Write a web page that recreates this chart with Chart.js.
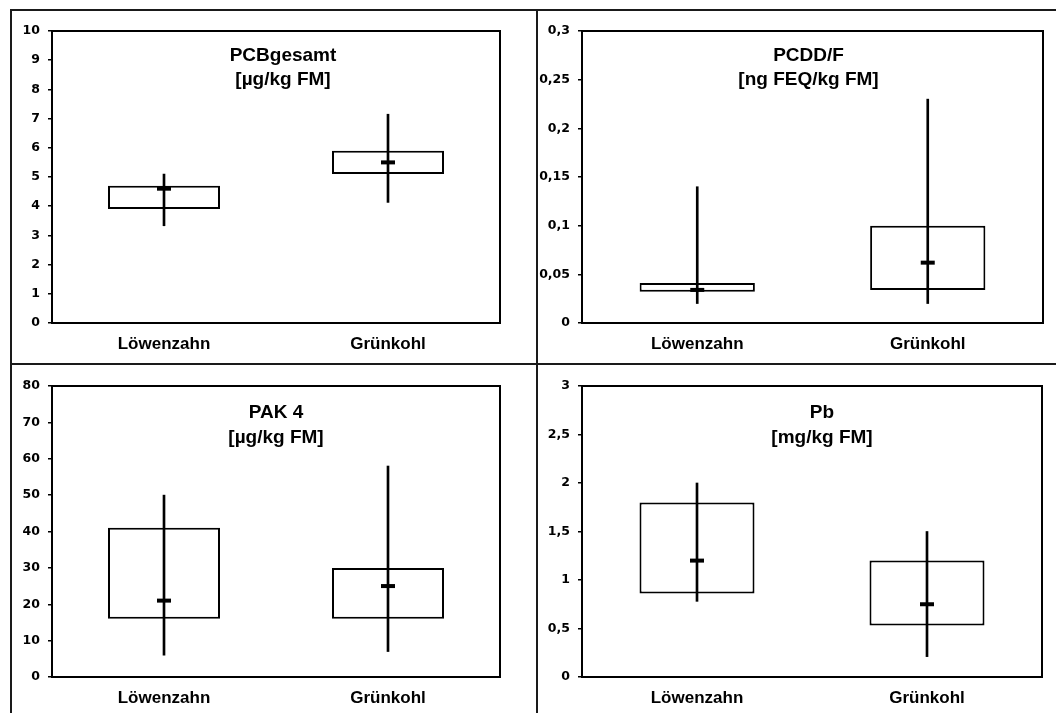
<!DOCTYPE html>
<html>
<head>
<meta charset="utf-8">
<script src="https://cdn.jsdelivr.net/npm/chart.js@4.4.1/dist/chart.umd.min.js"></script>
<style>
  html, body { margin: 0; padding: 0; background: #fff; }
  #page { position: relative; width: 1056px; height: 713px; overflow: hidden; }
  .frame { position: absolute; background: #1a1a1a; }
  canvas { position: absolute; }
</style>
</head>
<body>
<div id="page">
  <div class="frame" style="left:10px;top:9px;width:2px;height:704px"></div>
  <div class="frame" style="left:10px;top:9px;width:1046px;height:2px"></div>
  <div class="frame" style="left:536px;top:9px;width:2px;height:704px"></div>
  <div class="frame" style="left:10px;top:363px;width:1046px;height:2px"></div>
</div>
<script>
// --- data ---
const categories = ['Löwenzahn', 'Grünkohl'];

const pcbTitle = ['PCBgesamt', '[µg/kg FM]'];
const pcbBox = [[3.9, 4.7], [5.1, 5.9]];
const pcbRange = [[3.33, 5.1], [4.13, 7.15]];
const pcbMedian = [4.6, 5.5];

const pcddTitle = ['PCDD/F', '[ng FEQ/kg FM]'];
const pcddBox = [[0.032, 0.041], [0.034, 0.1]];
const pcddRange = [[0.02, 0.14], [0.02, 0.23]];
const pcddMedian = [0.034, 0.062];

const pakTitle = ['PAK 4', '[µg/kg FM]'];
const pakBox = [[16, 41], [16, 30]];
const pakRange = [[6, 50], [7, 58]];
const pakMedian = [21, 25];

const pbTitle = ['Pb', '[mg/kg FM]'];
const pbBox = [[0.86, 1.8], [0.53, 1.2]];
const pbRange = [[0.78, 2.0], [0.21, 1.5]];
const pbMedian = [1.2, 0.75];

const SANS = '"Liberation Sans", Arial, sans-serif';

// plot frame + two-line title inside the plot area
const panelDeco = {
  id: 'panelDeco',
  afterDraw(chart, args, opts) {
    const a = chart.chartArea, ctx = chart.ctx;
    ctx.save();
    ctx.strokeStyle = '#000';
    ctx.lineWidth = 2;
    ctx.strokeRect(a.left, a.top, a.right - a.left, a.bottom - a.top);
    ctx.fillStyle = '#000';
    ctx.font = 'bold 19px ' + SANS;
    ctx.textAlign = 'center';
    ctx.textBaseline = 'alphabetic';
    const cx = (a.left + a.right) / 2 + opts.dx;
    opts.lines.forEach((t, i) => ctx.fillText(t, cx, a.top + opts.y[i]));
    ctx.restore();
  }
};

function fmt(v) {
  return String(+v.toFixed(3)).replace('.', ',');
}

function makePanel(rect, area, box, range, median, yMax, yStep, title, dx, ty) {
  const cv = document.createElement('canvas');
  cv.width = rect.w; cv.height = rect.h;
  cv.style.left = rect.x + 'px'; cv.style.top = rect.y + 'px';
  document.getElementById('page').appendChild(cv);

  const yWidth = area.l - rect.x;
  const xHeight = rect.y + rect.h - area.b;

  new Chart(cv, {
    type: 'bar',
    data: {
      labels: categories,
      datasets: [
        {
          type: 'line', data: median, showLine: false,
          pointStyle: 'line', pointRadius: 7, pointHoverRadius: 7,
          pointBorderWidth: 4, pointHoverBorderWidth: 4,
          borderColor: '#000', pointBorderColor: '#000', order: 0
        },
        {
          data: range, backgroundColor: '#000', borderWidth: 0,
          barThickness: 2, grouped: false, order: 1
        },
        {
          data: box, backgroundColor: '#fff', borderColor: '#000',
          borderWidth: 2, borderSkipped: false, grouped: false,
          categoryPercentage: 1, barPercentage: 0.5, order: 2
        }
      ]
    },
    options: {
      responsive: false,
      animation: false,
      events: [],
      layout: { padding: { left: 0, right: rect.x + rect.w - area.r, top: area.t - rect.y, bottom: 0 } },
      plugins: {
        legend: { display: false },
        tooltip: { enabled: false },
        panelDeco: { lines: title, dx: dx, y: ty }
      },
      scales: {
        x: {
          offset: true,
          grid: { display: false, drawTicks: false },
          border: { display: false },
          ticks: { color: '#000', padding: 11, font: { family: SANS, size: 17, weight: 'bold' } },
          afterFit(s) { s.height = xHeight; }
        },
        y: {
          min: 0, max: yMax,
          grid: { drawOnChartArea: false, drawTicks: true, tickLength: 4, color: '#000', lineWidth: 1.5 },
          border: { display: false },
          ticks: {
            stepSize: yStep, color: '#000', padding: 8,
            font: { family: '"DejaVu Sans", sans-serif', size: 12.5, weight: 'bold' },
            callback: fmt
          },
          afterFit(s) { s.width = yWidth; }
        }
      }
    },
    plugins: [panelDeco]
  });
}

makePanel({x: 12, y: 11, w: 524, h: 352}, {l: 52, t: 31, r: 500, b: 323},
  pcbBox, pcbRange, pcbMedian, 10, 1, pcbTitle, 7, [30, 54]);
makePanel({x: 538, y: 11, w: 518, h: 352}, {l: 582, t: 31, r: 1043, b: 323},
  pcddBox, pcddRange, pcddMedian, 0.3, 0.05, pcddTitle, -4, [30, 54]);
makePanel({x: 12, y: 365, w: 524, h: 348}, {l: 52, t: 386, r: 500, b: 677},
  pakBox, pakRange, pakMedian, 80, 10, pakTitle, 0, [32, 57]);
makePanel({x: 538, y: 365, w: 518, h: 348}, {l: 582, t: 386, r: 1042, b: 677},
  pbBox, pbRange, pbMedian, 3, 0.5, pbTitle, 10, [32, 57]);
</script>
</body>
</html>
